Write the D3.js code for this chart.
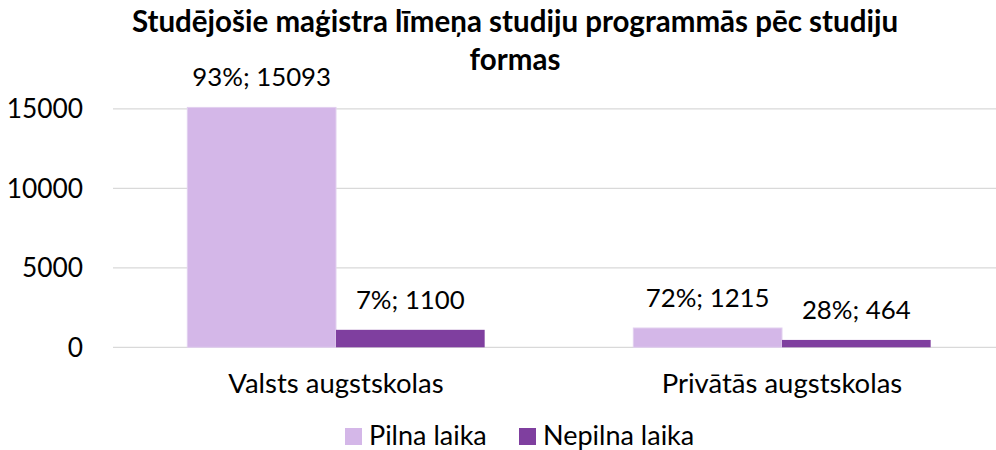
<!DOCTYPE html>
<html>
<head>
<meta charset="utf-8">
<script src="https://cdn.jsdelivr.net/npm/d3@7"></script>
<style>
	body { margin: 0; background: #fff; }
	text { font-family: Lato, "Open Sans", sans-serif; fill: #000; }
</style>
</head>
<body>
<svg id="chart" width="996" height="450"></svg>
<script>
let categories = ["Valsts augstskolas", "Privātās augstskolas"];
let series = ["Pilna laika", "Nepilna laika"];
let values = [[15093, 1100], [1215, 464]];
let shares = [["93%", "7%"], ["72%", "28%"]];
let y_ticks = [0, 5000, 10000, 15000];
let title_lines = ["Studējošie maģistra līmeņa studiju programmās pēc studiju", "formas"];

let colors = ["#d4b7e8", "#7f3f9f"];

let svg = d3.select("#chart");

let x0 = d3.scaleBand()
	.domain(categories)
	.range([113, 1005])
	.paddingInner(0)
	.paddingOuter(0);

let x1 = d3.scaleBand()
	.domain(series)
	.range([0, x0.bandwidth()])
	.paddingInner(0)
	.paddingOuter(0.5);

let y = d3.scaleLinear()
	.domain([0, 16000])
	.range([347.3, 93]);

// gridlines
svg.append("g")
	.selectAll("line")
	.data(y_ticks)
	.join("line")
	.attr("x1", 113)
	.attr("x2", 996)
	.attr("y1", d => y(d))
	.attr("y2", d => y(d))
	.style("stroke", "#d9d9d9")
	.style("stroke-width", "1.3px");

// y tick labels
svg.append("g")
	.selectAll("text")
	.data(y_ticks)
	.join("text")
	.attr("x", 83)
	.attr("y", d => y(d))
	.attr("dy", "0.36em")
	.attr("text-anchor", "end")
	.style("font-size", "26.3px")
	.text(d => d);

// bars
let groups = svg.append("g")
	.selectAll("g")
	.data(categories)
	.join("g")
	.attr("transform", d => `translate(${x0(d)},0)`);

groups.each(function(cat, ci) {
	let g = d3.select(this);
	series.forEach((s, si) => {
		let v = values[ci][si];
		g.append("rect")
			.attr("x", x1(s))
			.attr("y", y(v))
			.attr("width", x1.bandwidth())
			.attr("height", y(0) - y(v))
			.style("fill", colors[si])
			.style("stroke", si == 0 ? "#e2d0ef" : "none")
			.style("stroke-width", "1px");

		g.append("text")
			.attr("x", x1(s) + x1.bandwidth() / 2)
			.attr("y", y(v) - 21)
			.attr("text-anchor", "middle")
			.style("font-size", "25.8px")
			.text(shares[ci][si] + "; " + v);
	});
});

// category labels
svg.append("g")
	.selectAll("text")
	.data(categories)
	.join("text")
	.attr("x", d => x0(d) + x0.bandwidth() / 2)
	.attr("y", 393)
	.attr("text-anchor", "middle")
	.style("font-size", "27.5px")
	.text(d => d);

// title
svg.append("g")
	.selectAll("text")
	.data(title_lines)
	.join("text")
	.attr("x", 515)
	.attr("y", (d, i) => 32 + i * 38)
	.attr("text-anchor", "middle")
	.style("font-size", "29.5px")
	.style("font-weight", "bold")
	.text(d => d);

// legend
let legend_x = [345, 519];
let legend = svg.append("g")
	.selectAll("g")
	.data(series)
	.join("g")
	.attr("transform", (d, i) => `translate(${legend_x[i]},428)`);

legend.append("rect")
	.attr("width", 17)
	.attr("height", 17)
	.style("fill", (d, i) => colors[i]);

legend.append("text")
	.attr("x", 24)
	.attr("y", 16.5)
	.style("font-size", "27px")
	.text(d => d);
</script>
</body>
</html>
